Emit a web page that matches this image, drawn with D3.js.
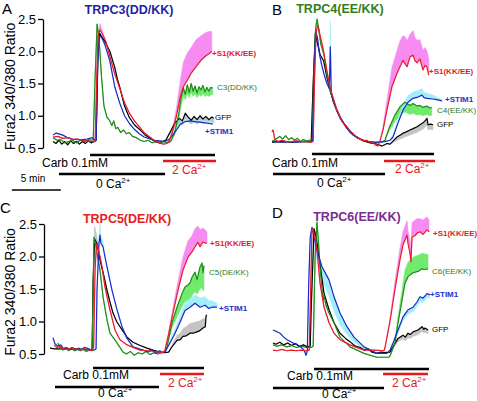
<!DOCTYPE html>
<html><head><meta charset="utf-8">
<script src="https://cdn.jsdelivr.net/npm/d3@7"></script>
<style>
body{margin:0;background:#fff}
svg{display:block}
text{font-family:Arial,"Liberation Sans",Helvetica,sans-serif}
</style>
</head><body>
<svg id="chart" width="477" height="401"></svg>
<script>
// ---------- DATA (time in min, ratio, error offset) ----------
const yTicks = [0.5, 1.0, 1.5, 2.0, 2.5];
const panelIds = ["A", "B", "C", "D"];
const titles = ["TRPC3(DD/KK)", "TRPC4(EE/KK)", "TRPC5(DE/KK)", "TRPC6(EE/KK)"];
const seriesNames = ["GFP", "TRPC", "STIM1", "S1"];
const labelsA = ["GFP", "C3(DD/KK)", "+STIM1", "+S1(KK/EE)"];
const labelsB = ["GFP", "C4(EE/KK)", "+STIM1", "+S1(KK/EE)"];
const labelsC = [null, "C5(DE/KK)", "+STIM1", "+S1(KK/EE)"];
const labelsD = ["GFP", "C6(EE/KK)", "+STIM1", "+S1(KK/EE)"];
// protocol bars [start, end] in min
const carbBars = [[3.78, 16.53], [4.08, 16.53], [4.39, 15.71], [4.29, 16.02]];
const zeroCaBars = [[0.61, 11.43], [0.1, 11.53], [0.51, 11.12], [0.1, 11.43]];
const twoCaBars = [[11.22, 16.63], [11.43, 16.63], [11.22, 15.71], [11.33, 15.92]];

const A_GFP = [[0,0.6],[0.3,0.57],[0.6,0.62],[0.9,0.56],[1.2,0.6],[1.5,0.55],[1.8,0.61],[2.1,0.57],[2.4,0.6],[2.7,0.56],[3.0,0.6],[3.3,0.57],[3.6,0.61],[3.9,0.58],[4.2,0.6],[4.4,0.62],[4.6,2.0],[4.75,2.28],[5.0,2.22],[5.3,2.15],[5.8,2.0],[6.3,1.75],[6.6,1.55],[6.8,1.45],[7.3,1.15],[7.8,0.97],[8.3,0.86],[8.9,0.78],[9.4,0.7],[9.9,0.65],[10.4,0.6],[10.9,0.58],[11.2,0.6],[11.5,0.62],[11.9,0.73,-0.03],[12.4,0.88,-0.06],[12.9,0.96,-0.08],[13.2,0.92,-0.07],[13.5,1.04,-0.1],[13.8,0.98,-0.08],[14.1,0.93,-0.06],[14.4,0.99,-0.09],[14.7,0.94,-0.07],[15.0,1.0,-0.09],[15.3,0.95,-0.07],[15.6,0.99,-0.09],[15.9,0.94,-0.07],[16.2,0.98,-0.08],[16.4,0.96,-0.07]];
const A_TRPC = [[0,0.66],[0.4,0.62],[0.8,0.63],[1.2,0.58],[1.6,0.6],[2.0,0.62],[2.4,0.58],[2.8,0.62],[3.2,0.6],[3.6,0.63],[4.0,0.62],[4.1,0.62],[4.3,1.6],[4.5,2.42],[4.7,2.2],[4.95,1.6],[5.2,1.15],[5.5,0.98],[5.8,0.92],[6.0,0.85],[6.2,0.92],[6.4,0.8],[6.6,0.82],[6.9,0.74],[7.2,0.78],[7.5,0.72],[7.8,0.74],[8.1,0.68],[8.5,0.66],[8.9,0.62],[9.3,0.6],[9.7,0.62],[10.1,0.58],[10.5,0.6],[10.9,0.59],[11.3,0.6],[11.7,0.58],[12.0,0.6],[12.4,0.73,-0.03],[12.8,1.0,-0.08],[13.1,1.3,-0.12],[13.3,1.43,-0.12],[13.5,1.33,-0.08],[13.7,1.48,-0.14],[13.9,1.36,-0.08],[14.1,1.5,-0.14],[14.3,1.38,-0.08],[14.5,1.46,-0.12],[14.7,1.35,-0.07],[14.9,1.45,-0.12],[15.1,1.4,-0.1],[15.3,1.47,-0.13],[15.5,1.37,-0.07],[15.7,1.44,-0.12],[15.9,1.38,-0.08],[16.1,1.44,-0.12],[16.3,1.43,-0.1]];
const A_STIM1 = [[0,0.7],[0.3,0.73],[0.6,0.72],[1.0,0.7],[1.5,0.66],[2.0,0.64],[2.5,0.63],[3.0,0.63],[3.5,0.64],[4.0,0.66],[4.2,0.63],[4.4,0.62],[4.55,1.8],[4.7,2.2],[4.85,2.24],[5.0,2.2],[5.3,2.1],[5.8,1.85],[6.3,1.45],[6.8,1.2],[7.3,1.0],[7.8,0.88],[8.3,0.79],[8.8,0.72],[9.3,0.67],[9.9,0.64],[10.4,0.62],[10.9,0.61],[11.4,0.6],[11.9,0.64],[12.3,0.72,0.02],[12.7,0.8,0.03],[13.0,0.87,0.03],[13.5,0.91,0.03],[14.0,0.92,0.03],[14.5,0.91,0.03],[15.0,0.9,0.03],[15.5,0.89,0.03],[16.0,0.88,0.03],[16.3,0.87,0.03]];
const A_S1 = [[0,0.67],[0.5,0.68],[1.0,0.65],[1.5,0.66],[2.0,0.63],[2.5,0.64],[3.0,0.62],[3.5,0.61],[4.0,0.6],[4.3,0.6],[4.45,1.5],[4.6,2.25],[4.8,2.33,0.1],[5.0,2.28,0.05],[5.4,2.15],[5.8,1.92],[6.3,1.65],[6.8,1.43],[7.3,1.2],[7.8,1.04],[8.3,0.92],[8.8,0.83],[9.3,0.74],[9.8,0.68],[10.3,0.62],[10.8,0.58],[11.3,0.56],[11.6,0.57],[11.9,0.62],[12.2,0.75,0.05],[12.6,1.0,0.12],[13.0,1.3,0.25],[13.3,1.45,0.38],[13.7,1.55,0.42],[14.1,1.66,0.4],[14.6,1.76,0.42],[15.1,1.86,0.38],[15.6,1.93,0.36],[16.0,1.97,0.34],[16.2,2.0,0.3]];

const B_GFP = [[0,0.59],[1,0.6],[2,0.59],[3,0.6],[4.0,0.6],[4.2,1.5],[4.42,2.28],[4.6,2.15],[4.9,1.95],[5.27,1.85],[5.6,1.6],[5.95,1.38],[6.3,1.2],[6.63,1.07],[7.0,0.95],[7.31,0.88],[7.99,0.74],[8.67,0.66],[9.35,0.61],[10.0,0.58],[10.5,0.57],[10.9,0.55],[11.2,0.53],[11.5,0.55],[11.73,0.57],[12.04,0.56],[12.3,0.6,-0.02],[12.76,0.67,-0.05],[13.1,0.7,-0.06],[13.37,0.73,-0.07],[13.7,0.75,-0.07],[14.08,0.78,-0.08],[14.4,0.8,-0.08],[14.8,0.83,-0.09],[15.1,0.86,-0.09],[15.41,0.89,-0.1],[15.61,0.92,-0.1],[15.82,0.96,-0.1],[15.92,0.86,-0.08],[16.2,0.87,-0.08],[16.43,0.86,-0.08]];
const B_TRPC = [[0,0.6],[0.5,0.65],[0.8,0.68],[1.1,0.64],[1.4,0.69],[1.7,0.63],[2.0,0.66],[2.3,0.62],[2.6,0.65],[2.9,0.6],[3.2,0.63],[3.5,0.61],[3.8,0.62],[4.1,0.62],[4.25,1.5],[4.45,2.35],[4.6,2.5],[4.75,2.35],[5.0,2.1],[5.3,1.95],[5.6,1.65],[5.95,1.4],[6.3,1.2],[6.63,1.08],[7.0,0.96],[7.3,0.89],[7.6,0.82],[8.0,0.75],[8.3,0.7],[8.7,0.67],[9.0,0.64],[9.35,0.62],[9.7,0.6],[10.0,0.6],[10.4,0.58],[10.9,0.59],[11.3,0.6],[11.53,0.62],[12.0,0.83,-0.05],[12.55,1.01,-0.1],[13.06,1.14,-0.13],[13.57,1.21,-0.15],[14.08,1.16,-0.14],[14.4,1.19,-0.15],[14.8,1.15,-0.14],[15.1,1.16,-0.14],[15.4,1.13,-0.13],[15.8,1.15,-0.13],[16.1,1.12,-0.12],[16.3,1.13,-0.12]];
const B_STIM1 = [[0,0.6],[0.5,0.6],[1,0.59],[1.5,0.6],[2,0.6],[2.5,0.59],[3,0.6],[3.5,0.6],[4.0,0.6],[4.15,0.62],[4.3,1.8],[4.49,2.3],[4.65,2.2],[4.85,1.95],[5.05,1.8],[5.3,1.65],[5.6,1.5],[5.85,1.42],[5.95,2.07,0.4],[6.05,1.35],[6.3,1.22],[6.63,1.09],[7.0,0.97],[7.31,0.89],[7.6,0.81],[8.0,0.75],[8.3,0.7],[8.67,0.67],[9.0,0.64],[9.35,0.62],[9.7,0.6],[10.0,0.6],[10.5,0.59],[11.0,0.59],[11.5,0.6],[12.04,0.62],[12.35,0.67,0.03],[12.86,0.89,0.06],[13.37,1.09,0.08],[13.88,1.21,0.1],[14.39,1.27,0.1],[14.9,1.29,0.1],[15.31,1.32,0.1],[15.5,1.28,0.08],[15.82,1.27,0.08],[16.43,1.26,0.06],[16.8,1.25,0.04],[17.35,1.23,0.02]];
const B_S1 = [[0,0.75],[0.1,0.78],[0.3,0.63],[0.6,0.6],[1.0,0.62],[1.5,0.6],[2.0,0.6],[2.5,0.61],[3.0,0.6],[3.5,0.6],[4.0,0.59],[4.2,0.6],[4.35,1.6],[4.5,2.3],[4.7,2.4],[4.9,2.25],[5.2,2.05],[5.6,1.7],[5.95,1.42],[6.3,1.25],[6.6,1.1],[7.0,0.95],[7.3,0.88],[7.6,0.84],[8.0,0.76],[8.3,0.72],[8.7,0.66],[9.0,0.64],[9.35,0.61],[9.7,0.62],[10.0,0.58],[10.3,0.6],[10.5,0.55],[10.8,0.53],[11.0,0.6],[11.33,0.78,0.05],[11.73,1.09,0.15],[12.24,1.45,0.3],[12.76,1.66,0.35],[13.06,1.76,0.4],[13.37,1.86,0.38],[13.6,1.8,0.42],[13.78,1.76,0.4],[14.08,1.91,0.35],[14.39,1.94,0.38],[14.6,1.85,0.36],[14.8,1.82,0.35],[15.1,1.88,0.3],[15.4,1.71,0.3],[15.6,1.78,0.28],[15.8,1.76,0.25],[16.0,1.63,0.25]];

const C_GFP = [[0,0.59],[0.5,0.58],[1,0.58],[1.5,0.58],[2,0.57],[2.5,0.58],[3,0.57],[3.5,0.57],[4.0,0.56],[4.3,0.57],[4.4,1.6],[4.55,2.27,0.2],[4.8,2.2,0.1],[5.1,1.95],[5.5,1.7],[5.82,1.48],[6.12,1.3],[6.43,1.13],[6.8,1.0],[7.14,0.92],[7.5,0.84],[7.86,0.76],[8.47,0.68],[9.2,0.63],[9.9,0.59],[10.5,0.56],[11.22,0.53],[11.7,0.52],[12.1,0.53],[12.4,0.6,0.03],[12.96,0.71,0.08],[13.3,0.72,0.1],[13.57,0.77,0.12],[13.9,0.78,0.14],[14.29,0.82,0.15],[14.6,0.82,0.16],[15.0,0.84,0.16],[15.3,0.86,0.15],[15.61,0.9,0.14],[15.85,0.92,0.12],[15.92,1.08,0.03],[16.0,1.1,0.02]];
const C_TRPC = [[0.8,0.67],[1.0,0.6],[1.3,0.56],[1.6,0.6],[1.9,0.55],[2.2,0.58],[2.5,0.55],[2.8,0.57],[3.1,0.55],[3.4,0.57],[3.7,0.54],[4.0,0.56],[4.3,0.55],[4.4,1.5],[4.49,2.3],[4.7,2.15],[5.1,1.79],[5.41,1.38],[5.82,1.02],[6.12,0.82],[6.84,0.67],[7.45,0.53],[7.8,0.5],[8.2,0.54],[8.6,0.48],[9.0,0.52],[9.4,0.5],[9.8,0.54],[10.2,0.49],[10.6,0.52],[11.0,0.5],[11.4,0.52],[11.8,0.55],[11.94,0.61],[12.45,0.98,-0.08],[12.96,1.22,-0.15],[13.47,1.43,-0.2],[13.78,1.53,-0.22],[14.08,1.56,-0.24],[14.3,1.6,-0.26],[14.49,1.68,-0.28],[14.8,1.76,-0.3],[15.0,1.64,-0.22],[15.31,1.84,-0.34],[15.51,1.9,-0.38],[15.61,1.75,-0.28],[15.71,1.86,-0.36]];
const C_STIM1 = [[0.3,0.75],[0.5,0.66],[0.8,0.62],[1.1,0.64],[1.4,0.58],[1.7,0.6],[2.0,0.57],[2.3,0.6],[2.6,0.56],[2.9,0.59],[3.2,0.57],[3.5,0.6],[3.78,0.59],[4.1,0.57],[4.5,0.56],[4.7,0.58],[4.8,1.5],[5.0,2.2,0.15],[5.1,2.33,0.17],[5.2,2.2,0.1],[5.41,2.15,0.08],[5.6,2.0,0.05],[5.82,1.84],[6.33,1.48],[6.84,1.18],[7.35,0.92],[7.86,0.74],[8.47,0.61],[9.49,0.56],[10.0,0.53],[10.4,0.57],[10.8,0.51],[11.2,0.55],[11.5,0.52],[11.73,0.53],[12.24,0.67,0.03],[12.76,0.82,0.06],[13.27,0.99,0.1],[13.78,1.17,0.12],[14.29,1.22,0.13],[14.8,1.28,0.13],[15.31,1.22,0.14],[15.82,1.25,0.13],[16.2,1.2,0.12],[16.53,1.22,0.1],[17.04,1.22,0.06]];
const C_S1 = [[0.4,0.64],[0.7,0.6],[1.0,0.62],[1.3,0.58],[1.6,0.6],[1.9,0.57],[2.2,0.6],[2.5,0.57],[2.8,0.58],[3.1,0.56],[3.4,0.58],[3.7,0.57],[4.0,0.56],[4.3,0.56],[4.45,0.6],[4.6,1.8],[4.75,2.2],[4.9,2.13],[5.1,2.0],[5.31,1.84],[5.61,1.53],[6.12,1.18],[6.63,0.87],[7.14,0.72],[7.86,0.64],[9.18,0.56],[10.0,0.55],[11.22,0.53],[11.53,0.52],[11.73,0.56],[12.04,0.76,0.03],[12.55,1.13,0.08],[13.06,1.48,0.14],[13.57,1.79,0.2],[14.08,1.99,0.25],[14.49,2.07,0.25],[14.8,2.15,0.28],[15.1,2.22,0.25],[15.31,2.15,0.26],[15.61,2.22,0.22],[16.02,2.2,0.18]];

const D_GFP = [[0.1,0.67],[0.4,0.65],[0.8,0.68],[1.2,0.64],[1.6,0.67],[2.0,0.63],[2.4,0.66],[2.8,0.62],[3.2,0.64],[3.6,0.61],[3.9,0.62],[4.0,1.2],[4.29,2.43],[4.5,2.3],[4.8,1.99],[5.31,1.43],[5.82,1.18],[6.33,0.98],[6.94,0.82],[7.5,0.74],[7.96,0.69],[8.5,0.62],[9.0,0.6],[9.39,0.56],[9.8,0.58],[10.2,0.53],[10.71,0.51],[11.1,0.53],[11.5,0.52],[12.04,0.53],[12.35,0.61,-0.02],[12.86,0.74,-0.05],[13.37,0.79,-0.06],[13.6,0.76,-0.06],[13.88,0.82,-0.07],[14.1,0.8,-0.06],[14.39,0.84,-0.07],[14.9,0.87,-0.07],[15.31,0.92,-0.07],[15.5,0.88,-0.06],[15.61,0.9,-0.06],[15.92,0.87,-0.06]];
const D_TRPC = [[0.1,0.64],[0.5,0.62],[1,0.64],[1.5,0.61],[2,0.63],[2.5,0.6],[3,0.62],[3.5,0.6],[4.0,0.6],[4.2,0.62],[4.4,2.0],[4.59,2.53],[4.75,2.2],[4.9,1.84],[5.2,1.33],[5.3,1.4],[5.5,1.25],[5.82,1.13],[6.33,0.98],[6.94,0.76],[7.96,0.61],[9.39,0.51],[10.71,0.45],[11.94,0.45],[12.04,0.47],[12.55,0.67,0.05],[12.86,0.98,0.1],[13.27,1.33,0.15],[13.57,1.59,0.2],[13.88,1.69,0.22],[14.39,1.75,0.24],[14.9,1.77,0.25],[15.31,1.81,0.24],[15.61,1.8,0.24],[15.92,1.81,0.22]];
const D_STIM1 = [[0.1,0.87],[0.4,0.85],[0.82,0.82],[1.2,0.76],[1.53,0.72],[2.0,0.68],[2.55,0.64],[3.0,0.6],[3.27,0.56],[3.47,0.48],[3.6,0.55],[3.75,1.6],[3.9,2.3],[4.08,2.45],[4.3,2.3,-0.1],[4.59,2.1,-0.15],[5.1,1.84,-0.2],[5.82,1.64,-0.25],[6.33,1.38,-0.22],[6.94,1.13,-0.18],[7.65,0.92,-0.12],[8.37,0.76,-0.08],[9.39,0.61,-0.04],[10.71,0.51],[11.73,0.51],[12.04,0.56],[12.35,0.67,-0.03],[12.86,0.87,-0.05],[13.37,1.07,-0.06],[13.88,1.18,-0.07],[14.39,1.22,-0.07],[14.8,1.3,-0.07],[15.1,1.38,-0.07],[15.41,1.36,-0.07],[15.82,1.43,-0.06],[16.12,1.41,-0.05]];
const D_S1 = [[0.1,0.56],[0.5,0.55],[1,0.57],[1.5,0.55],[2,0.56],[2.5,0.55],[3,0.56],[3.5,0.55],[3.8,0.56],[3.95,1.5],[4.08,2.43],[4.3,2.35],[4.59,2.1],[4.9,1.59],[5.31,1.22],[5.82,0.98],[6.33,0.82],[6.94,0.72],[7.96,0.64],[9.39,0.56],[10.5,0.56],[11.43,0.55],[11.53,0.6],[12.04,1.0,0.05],[12.55,1.5,0.12],[13.06,1.95,0.18],[13.37,2.18,0.2],[13.78,2.33,0.22],[13.88,2.2,0.2],[14.08,2.05,0.2],[14.18,1.92,0.2],[14.29,2.3,0.22],[14.6,2.32,0.24],[14.8,2.36,0.22],[15.1,2.38,0.2],[15.41,2.34,0.22],[15.82,2.41,0.2],[16.02,2.38,0.18]];

// ---------- LAYOUT / STYLE ----------
const panelData = {
  A: [A_GFP, A_TRPC, A_STIM1, A_S1],
  B: [B_GFP, B_TRPC, B_STIM1, B_S1],
  C: [C_GFP, C_TRPC, C_STIM1, C_S1],
  D: [D_GFP, D_TRPC, D_STIM1, D_S1]
};
const panelLabels = {A: labelsA, B: labelsB, C: labelsC, D: labelsD};
const lineColors = ["#000000", "#238a1c", "#1b28cc", "#ec1c24"];
const bandColors = ["#c4c4c4", "#72ea6e", "#a4eef9", "#f68cf2"];
const labelColors = ["#000000", "#2a7d1e", "#2232c8", "#e8161e"];
const labelWeights = ["normal", "normal", "bold", "bold"];
const titleColors = ["#1f1fa8", "#2f7f20", "#e62020", "#7e2a8e"];
const PX_PER_MIN = 9.8;

const L = {
  A: {x0: 53, yTop: 19, yBot: 148, axisX: 43, letter: [2, 14], title: [129, 14],
      labels: [[215, 117], [217, 87], [205, 131], [212, 53]],
      barY: [155, 161, 174], carbTxt: [42, 167], twoTxt: [172, 174], zeroTxt: [96, 188]},
  B: {x0: 272, yTop: 19, yBot: 148, axisX: null, letter: [272, 15], title: [340, 13],
      labels: [[437, 124], [437, 110], [445, 99], [429, 71]],
      barY: [154, 161, 174], carbTxt: [272, 167], twoTxt: [395, 173], zeroTxt: [317, 187]},
  C: {x0: 50, yTop: 224, yBot: 354, axisX: 44, letter: [0, 213], title: [127, 223],
      labels: [null, [209, 272], [219, 308], [210, 243]],
      barY: [368, 374, 387], carbTxt: [63, 379], twoTxt: [168, 387], zeroTxt: [98, 397]},
  D: {x0: 272, yTop: 224, yBot: 354, axisX: null, letter: [272, 218], title: [357, 221],
      labels: [[432, 329], [432, 271], [430, 294], [433, 233]],
      barY: [369, 374, 388], carbTxt: [287, 380], twoTxt: [392, 387], zeroTxt: [322, 398]}
};

const svg = d3.select("#chart");

panelIds.forEach((pid, pi) => {
  const lay = L[pid];
  const g = svg.append("g");
  const x = d3.scaleLinear().domain([0, 16]).range([lay.x0, lay.x0 + 16 * PX_PER_MIN]);
  const y = d3.scaleLinear().domain([0.5, 2.5]).range([lay.yBot, lay.yTop]);

  // axis
  if (lay.axisX !== null) {
    const ax = g.append("g").attr("transform", `translate(${lay.axisX},0)`)
      .call(d3.axisLeft(y).tickValues(yTicks).tickFormat(d3.format(".1f")).tickSize(5).tickSizeOuter(0));
    ax.select(".domain").attr("stroke", "#000").attr("stroke-width", 1.3);
    ax.selectAll(".tick line").attr("stroke", "#000").attr("stroke-width", 1.3);
    ax.selectAll(".tick text").attr("font-size", 13).attr("fill", "#000").attr("x", -7)
      .attr("font-family", "Arial, 'Liberation Sans', sans-serif");
    g.append("text").attr("transform", `translate(15,${(lay.yTop + lay.yBot) / 2 + 3}) rotate(-90)`)
      .attr("text-anchor", "middle").attr("font-size", 14).text("Fura2 340/380 Ratio");
  }

  const series = panelData[pid];
  // bands
  series.forEach((s, si) => {
    const area = d3.area().x(d => x(d[0])).y0(d => y(d[1])).y1(d => y(d[1] + (d[2] || 0)));
    g.append("path").datum(s).attr("d", area).attr("fill", bandColors[si]).attr("stroke", bandColors[si]).attr("stroke-width", 0.6);
  });
  // lines
  series.forEach((s, si) => {
    const line = d3.line().x(d => x(d[0])).y(d => y(d[1]));
    g.append("path").datum(s).attr("d", line).attr("fill", "none")
      .attr("stroke", lineColors[si]).attr("stroke-width", 1.2).attr("stroke-linejoin", "round");
  });
  // trace labels
  panelLabels[pid].forEach((t, si) => {
    if (!t) return;
    const p = lay.labels[si];
    g.append("text").attr("x", p[0]).attr("y", p[1]).attr("dy", "0.35em")
      .attr("font-size", 8).attr("font-weight", labelWeights[si]).attr("fill", labelColors[si]).text(t);
  });

  // title + letter
  g.append("text").attr("x", lay.title[0]).attr("y", lay.title[1]).attr("text-anchor", "middle")
    .attr("font-size", 12.5).attr("font-weight", "bold").attr("fill", titleColors[pi]).text(titles[pi]);
  g.append("text").attr("x", lay.letter[0]).attr("y", lay.letter[1]).attr("font-size", 15).text(pid);

  // protocol bars
  const bars = [[carbBars[pi], "#000"], [twoCaBars[pi], "#e8161e"], [zeroCaBars[pi], "#000"]];
  bars.forEach((b, bi) => {
    g.append("line").attr("x1", x(b[0][0])).attr("x2", x(b[0][1]))
      .attr("y1", lay.barY[bi]).attr("y2", lay.barY[bi]).attr("stroke", b[1]).attr("stroke-width", 2.6);
  });
  g.append("text").attr("x", lay.carbTxt[0]).attr("y", lay.carbTxt[1]).attr("font-size", 12).text("Carb 0.1mM");
  const t2 = g.append("text").attr("x", lay.twoTxt[0]).attr("y", lay.twoTxt[1]).attr("font-size", 12).attr("fill", "#e8161e");
  t2.append("tspan").text("2 Ca");
  t2.append("tspan").attr("font-size", 8).attr("dy", -5).text("2+");
  const t0 = g.append("text").attr("x", lay.zeroTxt[0]).attr("y", lay.zeroTxt[1]).attr("font-size", 12).attr("fill", "#000");
  t0.append("tspan").text("0 Ca");
  t0.append("tspan").attr("font-size", 8).attr("dy", -5).text("2+");

  // scale bar (panel A only)
  if (pid === "A") {
    g.append("line").attr("x1", x(-4.2)).attr("x2", x(-4.2 + 5)).attr("y1", 190).attr("y2", 190)
      .attr("stroke", "#000").attr("stroke-width", 1.3);
    g.append("text").attr("x", 33).attr("y", 182).attr("text-anchor", "middle").attr("font-size", 10).text("5 min");
  }
});
</script>
</body></html>
